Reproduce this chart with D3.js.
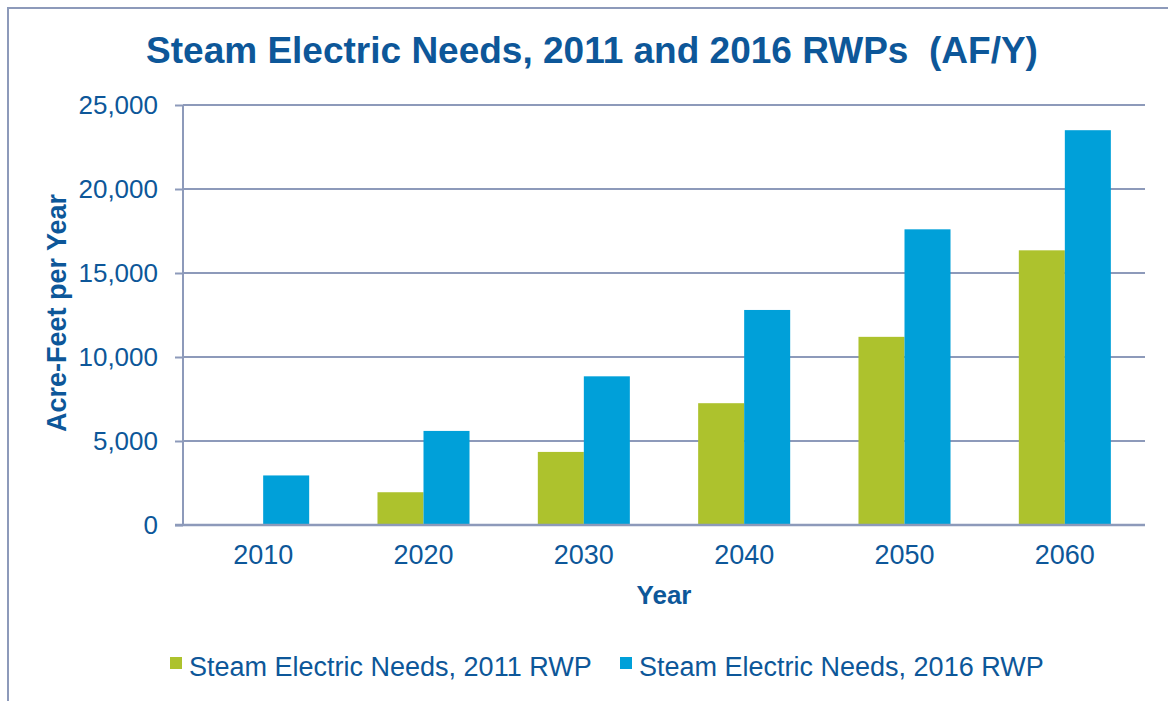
<!DOCTYPE html>
<html>
<head>
<meta charset="utf-8">
<script src="https://cdn.jsdelivr.net/npm/d3@7"></script>
<style>
  body { margin: 0; background: #fff; }
  svg { display: block; font-family: "Liberation Sans", Arial, sans-serif; }
</style>
</head>
<body>
<script>
var width = 1168,
    height = 701;

var margin = {top: 105, right: 23, bottom: 176, left: 183};

// data
var years = ["2010", "2020", "2030", "2040", "2050", "2060"];
var seriesNames = ["Steam Electric Needs, 2011 RWP", "Steam Electric Needs, 2016 RWP"];
var needs2011 = [0, 1950, 4350, 7250, 11200, 16350];
var needs2016 = [2950, 5600, 8850, 12800, 17600, 23500];
var yTicks = [0, 5000, 10000, 15000, 20000, 25000];

var colors = ["#adc22d", "#00a0d9"];
var textColor = "#0d5799";
var gridColor = "#8d9aba";

var svg = d3.select("body").append("svg")
    .attr("width", width)
    .attr("height", height);

// outer frame
svg.append("rect")
    .attr("x", 8).attr("y", 8)
    .attr("width", 1300).attr("height", 900)
    .attr("fill", "none")
    .attr("stroke", gridColor)
    .attr("stroke-width", 2);

var plotW = width - margin.left - margin.right,
    plotH = height - margin.top - margin.bottom;

var g = svg.append("g")
    .attr("transform", "translate(" + margin.left + "," + margin.top + ")");

var xScale = d3.scaleBand()
    .domain(years)
    .range([0, plotW])
    .paddingInner(0.426)
    .paddingOuter(0.213);

var xSub = d3.scaleBand()
    .domain([0, 1])
    .range([0, xScale.bandwidth()]);

var yScale = d3.scaleLinear()
    .domain([0, 25000])
    .range([plotH, 0]);

// gridlines
g.selectAll(".grid")
    .data(yTicks.filter(function(d) { return d > 0; }))
    .enter().append("line")
    .attr("x1", 0).attr("x2", plotW)
    .attr("y1", function(d) { return yScale(d); })
    .attr("y2", function(d) { return yScale(d); })
    .attr("stroke", gridColor)
    .attr("stroke-width", 2);

// y axis
var axisY = d3.axisLeft(yScale)
    .tickValues(yTicks)
    .tickSize(8)
    .tickPadding(17)
    .tickFormat(d3.format(","));

var yAx = g.append("g").call(axisY);
yAx.select(".domain").attr("stroke", gridColor).attr("stroke-width", 2)
    .attr("d", "M0," + plotH + "V0");
yAx.selectAll(".tick line").attr("stroke", gridColor).attr("stroke-width", 2);
yAx.selectAll(".tick text")
    .attr("fill", textColor)
    .style("font-size", "26px")
    .style("font-family", "Liberation Sans, Arial, sans-serif");

// bars
var allSeries = [needs2011, needs2016];
allSeries.forEach(function(vals, si) {
    g.selectAll(".bar" + si)
        .data(vals)
        .enter().append("rect")
        .attr("class", "bar" + si)
        .attr("x", function(d, i) { return xScale(years[i]) + xSub(si); })
        .attr("width", xSub.bandwidth())
        .attr("y", function(d) { return yScale(d); })
        .attr("height", function(d) { return plotH - yScale(d); })
        .attr("fill", colors[si]);
});

// x axis
var axisX = d3.axisBottom(xScale).tickSize(0).tickPadding(20);
var xAx = g.append("g")
    .attr("transform", "translate(0," + plotH + ")")
    .call(axisX);
xAx.select(".domain").attr("stroke", gridColor).attr("stroke-width", 2.5)
    .attr("d", "M-8,0H" + plotW);
xAx.selectAll(".tick text")
    .attr("fill", textColor)
    .style("font-size", "27px")
    .style("font-family", "Liberation Sans, Arial, sans-serif");

// title
svg.append("text")
    .attr("x", 592).attr("y", 63)
    .attr("text-anchor", "middle")
    .attr("fill", textColor)
    .style("font-size", "37px")
    .style("font-weight", "bold")
    .attr("xml:space", "preserve")
    .text("Steam Electric Needs, 2011 and 2016 RWPs  (AF/Y)");

// axis titles
svg.append("text")
    .attr("x", 664).attr("y", 604)
    .attr("text-anchor", "middle")
    .attr("fill", textColor)
    .style("font-size", "26px")
    .style("font-weight", "bold")
    .text("Year");

svg.append("text")
    .attr("transform", "translate(66,313) rotate(-90)")
    .attr("text-anchor", "middle")
    .attr("fill", textColor)
    .style("font-size", "27px")
    .style("font-weight", "bold")
    .text("Acre-Feet per Year");

// legend
var legendX = [170, 620];
var legend = svg.selectAll(".legend")
    .data(seriesNames)
    .enter().append("g")
    .attr("transform", function(d, i) { return "translate(" + legendX[i] + ",676)"; });

legend.append("rect")
    .attr("x", 0).attr("y", -19)
    .attr("width", 12).attr("height", 12)
    .attr("fill", function(d, i) { return colors[i]; });

legend.append("text")
    .attr("x", 19).attr("y", 0)
    .attr("fill", textColor)
    .style("font-size", "27px")
    .text(function(d) { return d; });
</script>
</body>
</html>
